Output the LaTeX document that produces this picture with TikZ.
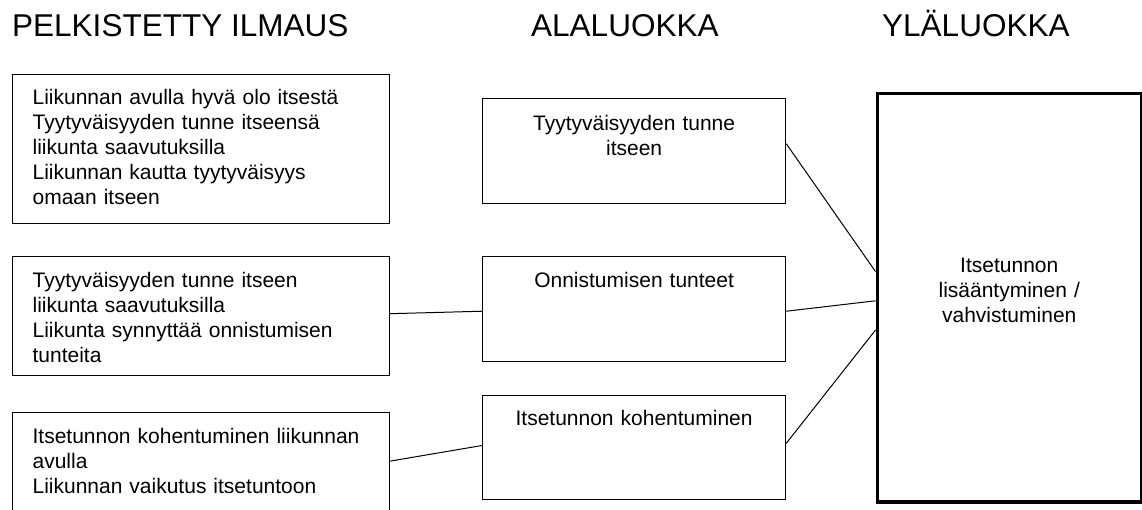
\documentclass[tikz,border=0pt]{standalone}
\usepackage{fontspec}
\setmainfont{Liberation Sans}
\usetikzlibrary{calc}

\tikzset{
  header/.style={anchor=base west, inner sep=0pt, font=\fontsize{31.5}{36}\selectfont},
  leftbox/.style={draw, line width=1.2pt, anchor=north west, align=left, text width=337pt,
    inner xsep=20pt, inner ysep=0pt, font=\fontsize{21}{25}\selectfont},
  midbox/.style={draw, line width=1.2pt, anchor=north west, align=center, text width=293pt,
    inner xsep=5pt, inner ysep=0pt, font=\fontsize{21}{25}\selectfont},
  topbox/.style={draw, line width=3.5pt, anchor=north west, align=center, text width=254pt,
    inner xsep=5pt, inner ysep=0pt, font=\fontsize{21}{25}\selectfont},
  link/.style={line width=1pt}
}

\begin{document}
\begin{tikzpicture}[x=1pt,y=-1pt]
        \useasboundingbox (0,0) rectangle (1142,509);
        \begin{scope}
        \clip (0,0) rectangle (1142,509);
        % headers
        \node[header] (hleft) at (12,36) {PELKISTETTY ILMAUS};
        \node[header] (hmid) at (531,36) {ALALUOKKA};
        \node[header] (htop) at (882,36) {YLÄLUOKKA};
        % reduced expressions
        \node[leftbox, text height=30pt, text depth=119pt] (left1) at (12,74)
          {Liikunnan avulla hyvä olo itsestä\\Tyytyväisyyden tunne itseensä\\liikunta saavutuksilla\\Liikunnan kautta tyytyväisyys\\omaan itseen};
        \node[leftbox, text height=31pt, text depth=88pt] (left2) at (12,256)
          {Tyytyväisyyden tunne itseen\\liikunta saavutuksilla\\Liikunta synnyttää onnistumisen\\tunteita};
        \node[leftbox, text height=31pt, text depth=97pt] (left3) at (12,412)
          {Itsetunnon kohentuminen liikunnan\\avulla\\Liikunnan vaikutus itsetuntoon};
        % subcategories
        \node[midbox, text height=32pt, text depth=73pt] (mid1) at (482,98)
          {Tyytyväisyyden tunne\\itseen};
        \node[midbox, text height=31pt, text depth=74pt] (mid2) at (482,256)
          {Onnistumisen tunteet};
        \node[midbox, text height=30pt, text depth=74pt] (mid3) at (482,395)
          {Itsetunnon kohentuminen};
        % main category
        \node[topbox, text height=179pt, text depth=229.5pt] (top) at (875.5,91.5)
          {Itsetunnon\\lisääntyminen /\\vahvistuminen};
        % connectors
        \draw[link] ($(left2.north east)!0.48!(left2.south east)$) -- ($(mid2.north west)!0.52!(mid2.south west)$);
        \draw[link] ($(left3.north east)!0.38!(left3.south east)$) -- ($(mid3.north west)!0.48!(mid3.south west)$);
        \draw[link] ($(mid1.north east)!0.43!(mid1.south east)$) -- ($(top.north west)!0.437!(top.south west)$);
        \draw[link] ($(mid2.north east)!0.52!(mid2.south east)$) -- ($(top.north west)!0.508!(top.south west)$);
        \draw[link] ($(mid3.north east)!0.46!(mid3.south east)$) -- ($(top.north west)!0.579!(top.south west)$);
        \end{scope}
\end{tikzpicture}
\end{document}
